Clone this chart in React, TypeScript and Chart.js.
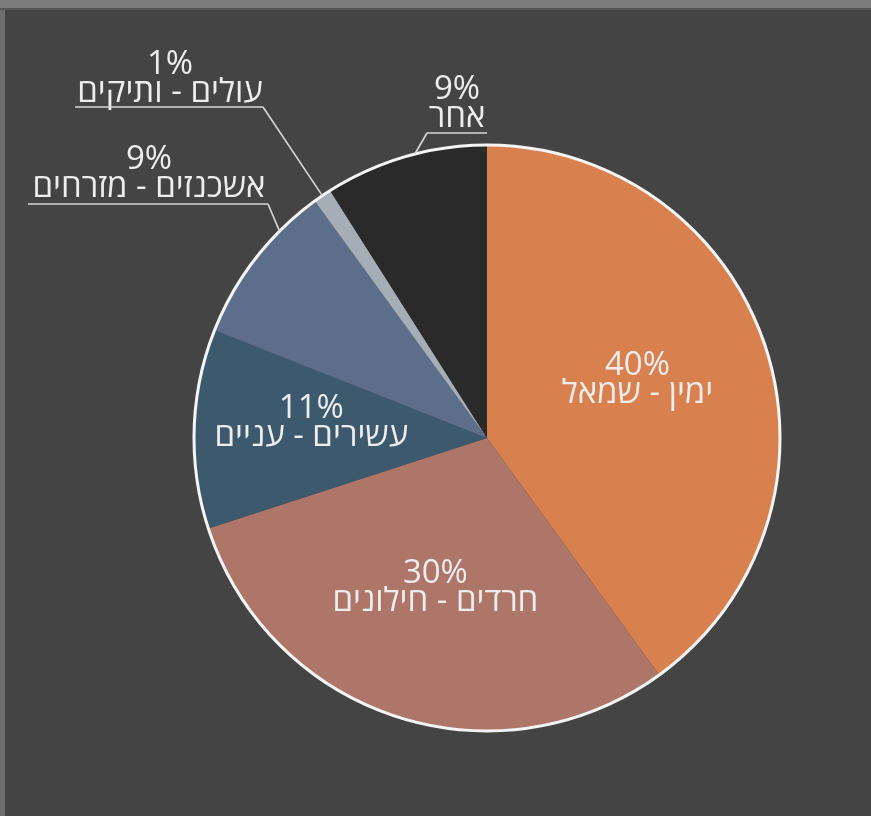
import React, { useEffect, useRef } from "react";
import { Chart, registerables } from "chart.js";

Chart.register(...registerables);

const categories = [
  "ימין - שמאל",
  "חרדים - חילונים",
  "עשירים - עניים",
  "אשכנזים - מזרחים",
  "עולים - ותיקים",
  "אחר",
];
const values = [40, 30, 11, 9, 1, 9];
const sliceColors = ["#D9804F", "#AD7668", "#3D596E", "#5D6E8B", "#A5ADB6", "#2A2A2A"];

// inside labels: slice index + radial fraction
const insideLabels = [
  { index: 0, frac: 0.54 },
  { index: 1, frac: 0.57 },
  { index: 2, frac: 0.6 },
];
// outside labels with underline + leader
const outsideLabels = [
  { index: 3, cx: 149, baseline: 197, lineY: 204, x0: 28, x1: 268, joinRight: true, anchorFrac: 0.72 },
  { index: 4, cx: 170, baseline: 102, lineY: 107, x0: 75, x1: 263, joinRight: true, anchorFrac: 0.5 },
  { index: 5, cx: 457, baseline: 127, lineY: 133, x0: 427, x1: 487, joinRight: false, anchorFrac: 0.56 },
];

const FONT = '33px "Open Sans", "Noto Sans Hebrew", "DejaVu Sans", sans-serif';
const TEXT_COLOR = "#EDEDED";
const LINE_GAP = 28;

const bgPlugin = {
  id: "bg",
  beforeDraw(chart: any) {
    const { ctx, width, height } = chart;
    ctx.save();
    ctx.fillStyle = "#444444";
    ctx.fillRect(0, 0, width, height);
    ctx.fillStyle = "#6E6E6E";
    ctx.fillRect(0, 0, 5, height);
    ctx.fillStyle = "#7B7B7B";
    ctx.fillRect(0, 0, width, 8);
    ctx.fillStyle = "#555555";
    ctx.fillRect(0, 8, width, 2);
    ctx.restore();
  },
};

const labelPlugin = {
  id: "labels",
  afterDatasetsDraw(chart: any) {
    const { ctx } = chart;
    const arcs = chart.getDatasetMeta(0).data;
    const a0 = arcs[0];
    const cx = a0.x, cy = a0.y, r = a0.outerRadius;
    ctx.save();
    // outer white ring
    ctx.beginPath();
    ctx.arc(cx, cy, r, 0, Math.PI * 2);
    ctx.strokeStyle = "#F4F4F4";
    ctx.lineWidth = 3;
    ctx.stroke();

    ctx.fillStyle = TEXT_COLOR;
    ctx.font = FONT;
    ctx.textAlign = "center";
    ctx.textBaseline = "alphabetic";

    insideLabels.forEach((l) => {
      const arc = arcs[l.index];
      const mid = (arc.startAngle + arc.endAngle) / 2;
      const x = cx + Math.cos(mid) * r * l.frac;
      const y = cy + Math.sin(mid) * r * l.frac;
      ctx.direction = "ltr";
      ctx.fillText(values[l.index] + "%", x, y - LINE_GAP / 2);
      ctx.direction = "rtl";
      ctx.fillText(categories[l.index], x, y + LINE_GAP / 2);
    });

    outsideLabels.forEach((l) => {
      const arc = arcs[l.index];
      ctx.fillStyle = TEXT_COLOR;
      ctx.direction = "ltr";
      ctx.fillText(values[l.index] + "%", l.cx, l.baseline - LINE_GAP);
      ctx.direction = "rtl";
      ctx.fillText(categories[l.index], l.cx, l.baseline);
      const ang = arc.startAngle + (arc.endAngle - arc.startAngle) * l.anchorFrac;
      const ax = cx + Math.cos(ang) * r;
      const ay = cy + Math.sin(ang) * r;
      const jx = l.joinRight ? l.x1 : l.x0;
      ctx.strokeStyle = "#D8D8D8";
      ctx.lineWidth = 1.6;
      ctx.beginPath();
      ctx.moveTo(l.x0, l.lineY);
      ctx.lineTo(l.x1, l.lineY);
      ctx.stroke();
      ctx.beginPath();
      ctx.moveTo(jx, l.lineY);
      ctx.lineTo(ax, ay);
      ctx.stroke();
    });
    ctx.restore();
  },
};

export default function App() {
  const ref = useRef<HTMLCanvasElement>(null);
  useEffect(() => {
    document.documentElement.style.overflow = "hidden";
    document.body.style.margin = "0";
    document.body.style.background = "#444444";
    if (!ref.current) return;
    const chart = new Chart(ref.current, {
      type: "pie",
      data: {
        labels: categories,
        datasets: [
          {
            data: values,
            backgroundColor: sliceColors,
            borderWidth: 0,
          },
        ],
      },
      options: {
        responsive: false,
        animation: false,
        layout: { padding: { left: 194, right: 91, top: 145, bottom: 85 } },
        plugins: {
          legend: { display: false },
          tooltip: { enabled: false },
        },
      },
      plugins: [bgPlugin, labelPlugin],
    });
    return () => chart.destroy();
  }, []);
  return (
    <div style={{ position: "fixed", left: 0, top: 0, width: 871, height: 816 }}>
      <canvas ref={ref} width={871} height={816} style={{ display: "block" }} />
    </div>
  );
}
